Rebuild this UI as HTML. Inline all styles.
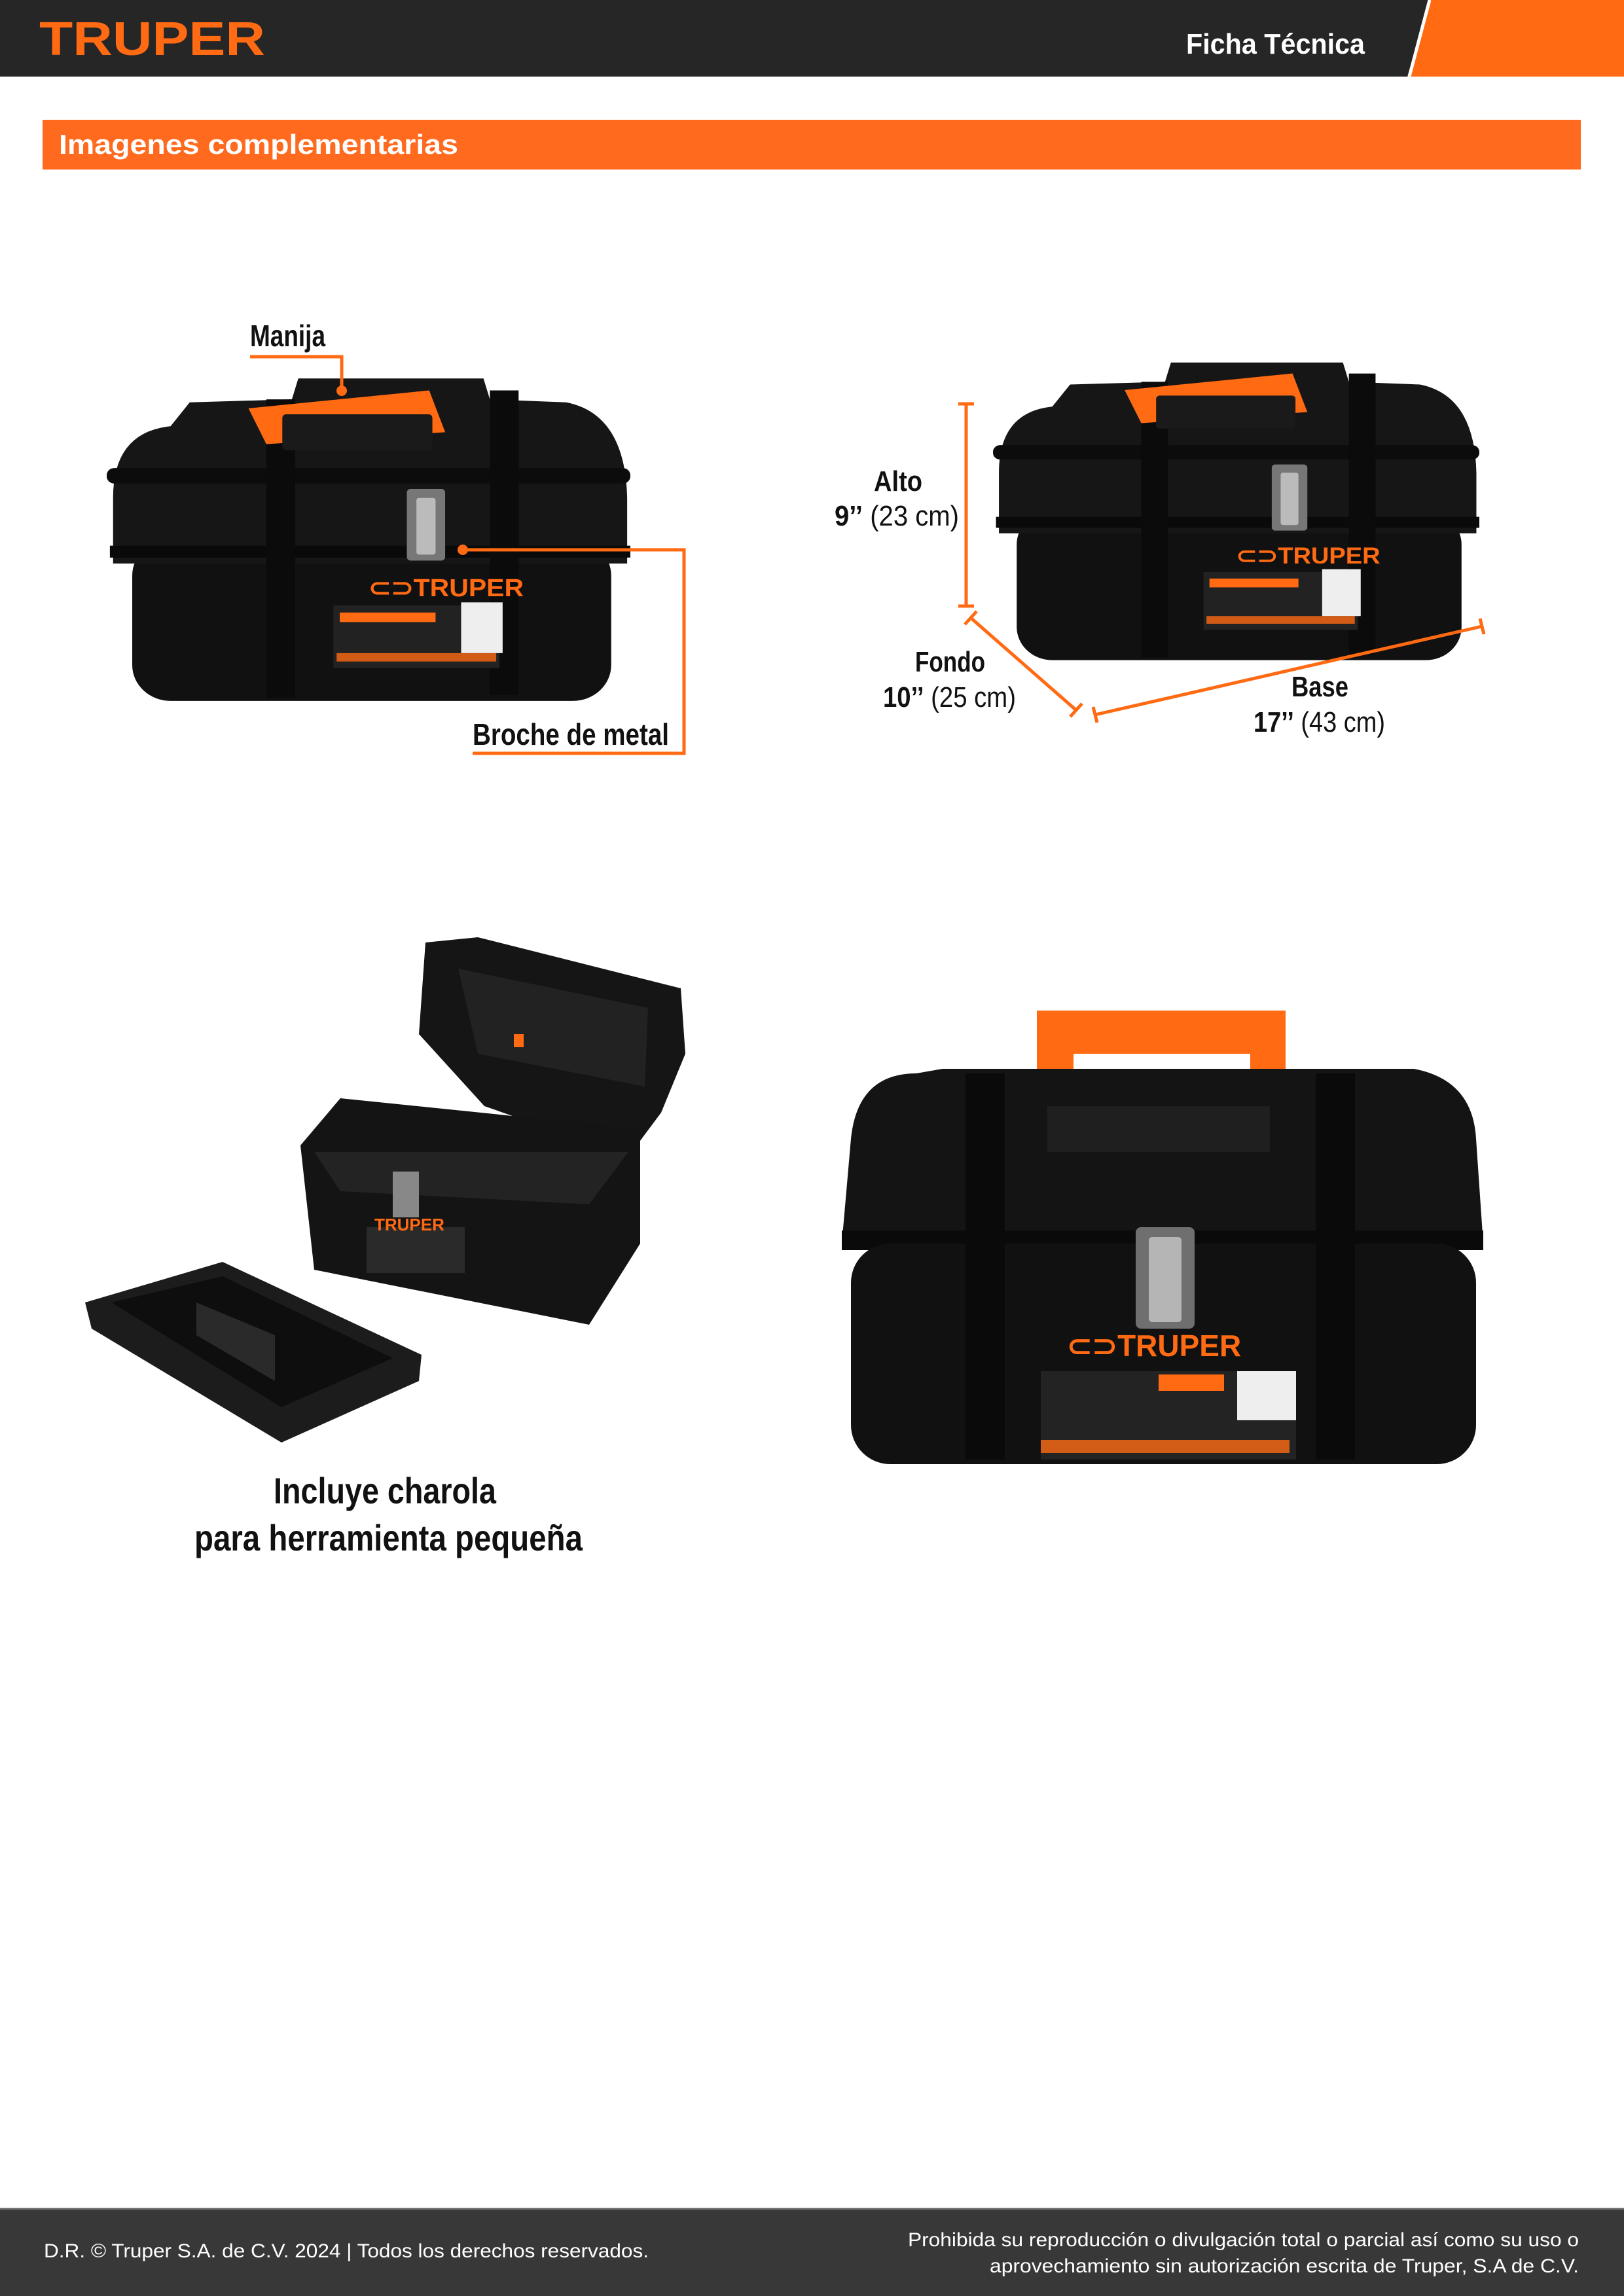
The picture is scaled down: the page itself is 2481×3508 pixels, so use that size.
<!DOCTYPE html>
<html><head><meta charset="utf-8"><style>
html,body{margin:0;padding:0;background:#fff}
body{width:2481px;height:3508px;position:relative;overflow:hidden;font-family:"Liberation Sans",sans-serif}
svg{position:absolute;left:0;top:0}
</style></head><body>
<svg width="2481" height="3508" viewBox="0 0 2481 3508" xmlns="http://www.w3.org/2000/svg">
<defs>
<symbol id="box" viewBox="0 0 820 570" preserveAspectRatio="none">
  <rect x="40" y="290" width="750" height="270" rx="60" fill="#111"/>
  <path d="M10 220 Q10 110 100 100 L130 60 L290 55 L300 20 L590 20 L600 55 L720 60 Q812 80 815 220 L815 330 L10 330 Z" fill="#161616"/>
  <rect x="0" y="170" width="820" height="26" rx="12" fill="#0c0c0c"/>
  <rect x="5" y="300" width="815" height="20" fill="#0a0a0a"/>
  <rect x="250" y="55" width="45" height="500" fill="#0b0b0b"/>
  <rect x="600" y="40" width="45" height="510" fill="#0b0b0b"/>
  <path d="M222 70 L505 40 L530 110 L250 130 Z" fill="#ff6a13"/>
  <rect x="275" y="80" width="235" height="60" rx="6" fill="#1a1a1a"/>
  <rect x="470" y="205" width="60" height="120" rx="6" fill="#777"/>
  <rect x="485" y="220" width="30" height="95" rx="4" fill="#bbb"/>
  <text x="410" y="385" font-family="Liberation Sans" font-weight="bold" font-size="42" fill="#ff6a13">⊂⊃TRUPER</text>
  <rect x="355" y="400" width="260" height="105" fill="#222"/>
  <rect x="365" y="412" width="150" height="16" fill="#ff6a13"/>
  <rect x="555" y="395" width="65" height="85" fill="#eee"/>
  <rect x="360" y="480" width="250" height="14" fill="#ff6a13" opacity=".8"/>
</symbol>
</defs>

<rect x="0" y="0" width="2481" height="117" fill="#262626"/>
<polygon points="2185,0 2481,0 2481,117 2150,117" fill="#ff6a13"/>
<line x1="2184" y1="0" x2="2153" y2="117" stroke="#fff" stroke-width="5"/>
<text x="60" y="84" font-family="Liberation Sans" font-weight="bold" font-size="72" fill="#ff6a13" textLength="345" lengthAdjust="spacingAndGlyphs">TRUPER</text>
<text x="1812" y="82" font-family="Liberation Sans" font-weight="bold" font-size="44" fill="#fff" textLength="273" lengthAdjust="spacingAndGlyphs">Ficha Técnica</text>

<rect x="65" y="183" width="2350" height="76" fill="#ff6a1f"/>
<text x="90" y="235" font-family="Liberation Sans" font-weight="bold" font-size="42" fill="#fff" textLength="610" lengthAdjust="spacingAndGlyphs">Imagenes complementarias</text>

<use href="#box" x="163" y="560" width="800" height="520"/>
<text x="382" y="529" font-family="Liberation Sans" font-weight="bold" font-size="46" fill="#111" textLength="115" lengthAdjust="spacingAndGlyphs">Manija</text>
<polyline points="382,545 522,545 522,597" fill="none" stroke="#ff6a13" stroke-width="5"/>
<circle cx="522" cy="597" r="8" fill="#ff6a13"/>
<polyline points="707,840 1045,840 1045,1151 722,1151" fill="none" stroke="#ff6a13" stroke-width="5"/>
<circle cx="707" cy="840" r="8" fill="#ff6a13"/>
<text x="722" y="1138" font-family="Liberation Sans" font-weight="bold" font-size="46" fill="#111" textLength="300" lengthAdjust="spacingAndGlyphs">Broche de metal</text>

<use href="#box" x="1517" y="537" width="743" height="480"/>
<g stroke="#ff6a13" stroke-width="5" fill="none">
<line x1="1476" y1="617" x2="1476" y2="926"/><line x1="1464" y1="617" x2="1488" y2="617"/><line x1="1464" y1="926" x2="1488" y2="926"/>
<line x1="1483" y1="944" x2="1644" y2="1085"/><line x1="1474" y1="954" x2="1492" y2="934"/><line x1="1635" y1="1095" x2="1653" y2="1075"/>
<line x1="1673" y1="1092" x2="2264" y2="957"/><line x1="1670" y1="1080" x2="1676" y2="1104"/><line x1="2261" y1="945" x2="2267" y2="969"/>
</g>
<g font-family="Liberation Sans" font-size="44" fill="#111">
<text x="1335" y="750" font-weight="bold" textLength="74" lengthAdjust="spacingAndGlyphs">Alto</text>
<text x="1275" y="803" textLength="190" lengthAdjust="spacingAndGlyphs"><tspan font-weight="bold">9’’</tspan> (23 cm)</text>
<text x="1398" y="1026" font-weight="bold" textLength="107" lengthAdjust="spacingAndGlyphs">Fondo</text>
<text x="1349" y="1080" textLength="203" lengthAdjust="spacingAndGlyphs"><tspan font-weight="bold">10’’</tspan> (25 cm)</text>
<text x="1973" y="1064" font-weight="bold" textLength="87" lengthAdjust="spacingAndGlyphs">Base</text>
<text x="1915" y="1118" textLength="201" lengthAdjust="spacingAndGlyphs"><tspan font-weight="bold">17’’</tspan> (43 cm)</text>
</g>

<path d="M650 1440 L730 1432 L1040 1510 L1047 1610 L1010 1700 L960 1767 L740 1690 L640 1580 Z" fill="#151515"/>
<path d="M700 1480 L990 1540 L985 1660 L730 1610 Z" fill="#222"/>
<rect x="785" y="1580" width="15" height="20" fill="#ff6a13"/>
<path d="M459 1750 L520 1678 L978 1725 L978 1900 L900 2024 L480 1940 Z" fill="#141414"/>
<path d="M480 1760 L960 1760 L900 1840 L520 1820 Z" fill="#232323"/>
<rect x="560" y="1875" width="150" height="70" fill="#2a2a2a"/>
<text x="572" y="1880" font-family="Liberation Sans" font-weight="bold" font-size="26" fill="#ff6a13">TRUPER</text>
<rect x="600" y="1790" width="40" height="70" fill="#888"/>
<path d="M130 1990 L340 1928 L644 2070 L640 2110 L430 2204 L140 2030 Z" fill="#1c1c1c"/>
<path d="M170 1990 L340 1950 L600 2075 L430 2150 Z" fill="#0e0e0e"/>
<path d="M300 1990 L420 2040 L420 2110 L300 2040 Z" fill="#2a2a2a"/>
<g font-family="Liberation Sans" font-weight="bold" font-size="56" fill="#111">
<text x="418" y="2297" textLength="340" lengthAdjust="spacingAndGlyphs">Incluye charola</text>
<text x="297" y="2369" textLength="593" lengthAdjust="spacingAndGlyphs">para herramienta pequeña</text>
</g>

<path d="M1584 1544 L1964 1544 L1964 1745 L1910 1745 L1910 1610 L1640 1610 L1640 1745 L1584 1745 Z" fill="#ff6a13"/>
<path d="M1300 1740 Q1310 1640 1400 1640 L1440 1633 L2160 1633 Q2250 1650 2255 1740 L2266 1900 L1286 1900 Z" fill="#141414"/>
<rect x="1600" y="1690" width="340" height="70" fill="#1f1f1f"/>
<rect x="1286" y="1880" width="980" height="30" fill="#0a0a0a"/>
<rect x="1300" y="1900" width="955" height="337" rx="60" fill="#111"/>
<rect x="1475" y="1640" width="60" height="590" fill="#0a0a0a"/>
<rect x="2010" y="1640" width="60" height="590" fill="#0a0a0a"/>
<rect x="1735" y="1875" width="90" height="155" rx="8" fill="#6f6f6f"/>
<rect x="1755" y="1890" width="50" height="130" rx="5" fill="#b5b5b5"/>
<text x="1630" y="2072" font-family="Liberation Sans" font-weight="bold" font-size="46" fill="#ff6a13">⊂⊃TRUPER</text>
<rect x="1590" y="2095" width="390" height="135" fill="#232323"/>
<rect x="1770" y="2100" width="100" height="25" fill="#ff6a13"/>
<rect x="1890" y="2095" width="90" height="75" fill="#eee"/>
<rect x="1590" y="2200" width="380" height="20" fill="#ff6a13" opacity=".8"/>

<rect x="0" y="3374" width="2481" height="134" fill="#383838"/>
<line x1="0" y1="3375" x2="2481" y2="3375" stroke="#666" stroke-width="3"/>
<g font-family="Liberation Sans" font-size="30" fill="#fff">
<text x="67" y="3449" textLength="924" lengthAdjust="spacingAndGlyphs">D.R. © Truper S.A. de C.V. 2024 | Todos los derechos reservados.</text>
<text x="1387" y="3432" textLength="1025" lengthAdjust="spacingAndGlyphs">Prohibida su reproducción o divulgación total o parcial así como su uso o</text>
<text x="1512" y="3472" textLength="900" lengthAdjust="spacingAndGlyphs">aprovechamiento sin autorización escrita de Truper, S.A de C.V.</text>
</g>
</svg>
</body></html>
